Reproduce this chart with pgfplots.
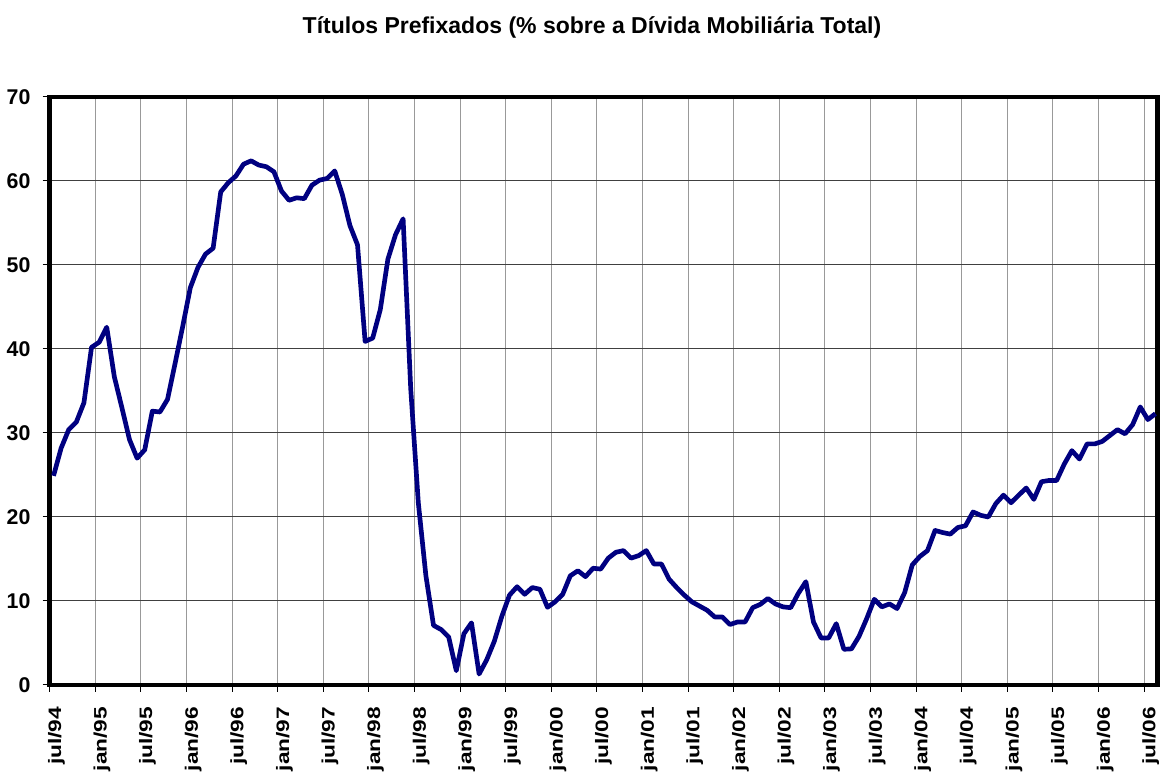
\documentclass[border=0pt]{standalone}
\usepackage{fontspec}
\setmainfont{Liberation Sans}
\newfontfamily\xfont[FakeStretch=1.26]{Liberation Sans}
\usepackage{pgfplots}
\pgfplotsset{compat=1.18}
\definecolor{navyline}{RGB}{0,0,128}
\begin{document}
\begin{tikzpicture}
\useasboundingbox (0,0) rectangle (873.75pt,579.75pt);
\begin{axis}[
  at={(37.3pt,66pt)}, anchor=south west,
  scale only axis, width=831pt, height=441pt,
  xmin=0, xmax=145.8, ymin=0, ymax=70,
  xtick={0,6,...,144},
  xticklabels={jul/94,jan/95,jul/95,jan/96,jul/96,jan/97,jul/97,jan/98,jul/98,jan/99,jul/99,jan/00,jul/00,jan/01,jul/01,jan/02,jul/02,jan/03,jul/03,jan/04,jul/04,jan/05,jul/05,jan/06,jul/06},
  ytick={0,10,...,70},
  tick pos=left,
  tick align=outside,
  major tick length=5.25pt,
  tick style={black, line width=0.75pt},
  xmajorgrids, ymajorgrids,
  x grid style={black!40, line width=0.75pt},
  y grid style={black!75, line width=0.75pt},
  axis line style={line width=3.4pt, line join=miter},
  /pgf/number format/assume math mode=true,
  yticklabel style={font=\bfseries\fontsize{16pt}{18pt}\selectfont, anchor=east, inner sep=0pt, xshift=-9pt},
  xticklabel style={font=\xfont\bfseries\fontsize{13.5pt}{16pt}\selectfont, inner sep=0pt, yshift=-11pt, xshift=5pt, rotate=90, anchor=east},
]
\addplot[navyline, line width=3.5pt, line join=round, mark=none] coordinates {
(0.5,24.9) (1.5,28.2) (2.5,30.4) (3.5,31.3) (4.5,33.6) (5.5,40.2) (6.5,40.8) (7.5,42.6) (8.5,36.7) (9.5,33.0)
(10.5,29.2) (11.5,27.0) (12.5,28.0) (13.5,32.6) (14.5,32.5) (15.5,34.0) (16.5,38.3) (17.5,42.7) (18.5,47.3) (19.5,49.7)
(20.5,51.3) (21.5,52.0) (22.5,58.7) (23.5,59.8) (24.5,60.6) (25.5,62.0) (26.5,62.4) (27.5,61.9) (28.5,61.7) (29.5,61.1)
(30.5,58.8) (31.5,57.7) (32.5,58.0) (33.5,57.9) (34.5,59.5) (35.5,60.1) (36.5,60.3) (37.5,61.2) (38.5,58.4) (39.5,54.7)
(40.5,52.4) (41.5,40.9) (42.5,41.3) (43.5,44.7) (44.5,50.7) (45.5,53.6) (46.5,55.5) (47.5,35.3) (48.5,21.7) (49.5,13.0)
(50.5,7.1) (51.5,6.6) (52.5,5.7) (53.5,1.7) (54.5,6.1) (55.5,7.4) (56.5,1.3) (57.5,3.0) (58.5,5.2) (59.5,8.2)
(60.5,10.7) (61.5,11.7) (62.5,10.8) (63.5,11.6) (64.5,11.4) (65.5,9.25) (66.5,9.9) (67.5,10.8) (68.5,13.0) (69.5,13.6)
(70.5,12.9) (71.5,13.9) (72.5,13.8) (73.5,15.1) (74.5,15.8) (75.5,16.0) (76.5,15.1) (77.5,15.4) (78.5,16.0) (79.5,14.4)
(80.5,14.4) (81.5,12.6) (82.5,11.6) (83.5,10.7) (84.5,9.9) (85.5,9.4) (86.5,8.9) (87.5,8.1) (88.5,8.1) (89.5,7.2)
(90.5,7.5) (91.5,7.5) (92.5,9.2) (93.5,9.6) (94.5,10.3) (95.5,9.65) (96.5,9.3) (97.5,9.2) (98.5,10.9) (99.5,12.3)
(100.5,7.5) (101.5,5.6) (102.5,5.6) (103.5,7.3) (104.5,4.25) (105.5,4.3) (106.5,5.8) (107.5,7.9) (108.5,10.2) (109.5,9.3)
(110.5,9.65) (111.5,9.1) (112.5,11.0) (113.5,14.3) (114.5,15.3) (115.5,16.0) (116.5,18.4) (117.5,18.15) (118.5,17.96) (119.5,18.75)
(120.5,18.95) (121.5,20.6) (122.5,20.2) (123.5,20.0) (124.5,21.6) (125.5,22.6) (126.5,21.7) (127.5,22.6) (128.5,23.45) (129.5,22.1)
(130.5,24.2) (131.5,24.35) (132.5,24.35) (133.5,26.3) (134.5,27.9) (135.5,26.9) (136.5,28.7) (137.5,28.7) (138.5,29.0) (139.5,29.7)
(140.5,30.4) (141.5,29.9) (142.5,31.0) (143.5,33.1) (144.5,31.6) (145.5,32.3)
};
\end{axis}
\node[font=\bfseries\fontsize{17.25pt}{20pt}\selectfont, anchor=base, inner sep=0pt] at (444pt,554.8pt) {Títulos Prefixados (\% sobre a Dívida Mobiliária Total)};
\end{tikzpicture}
\end{document}
